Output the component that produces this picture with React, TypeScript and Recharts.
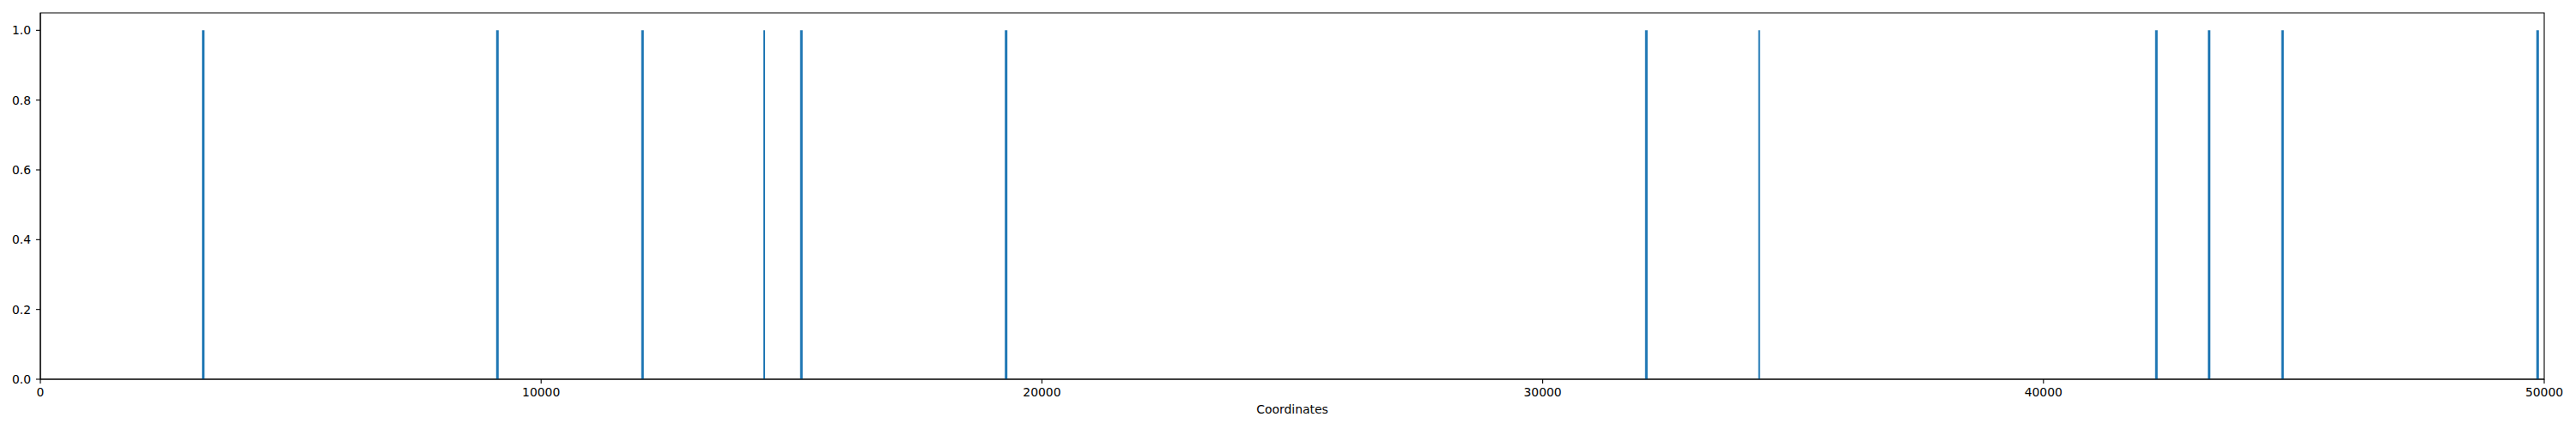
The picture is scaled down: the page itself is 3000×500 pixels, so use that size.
import React from "react";
import {
  ComposedChart,
  XAxis,
  YAxis,
  ReferenceLine,
  ReferenceArea,
  Label,
} from "recharts";

// peak coordinates
const widePeaks = [3253, 9127, 12025, 15197, 19285, 32070, 42255, 43308, 44775, 49868];
const narrowPeaks = [14455, 34323];

const xTicks = [0, 10000, 20000, 30000, 40000, 50000];
const yTicks = [0, 0.2, 0.4, 0.6, 0.8, 1.0];
const xDomain = [0, 50000];
const yDomain = [0, 1.05];
const peakHeight = 1;

const BLUE = "#1f77b4";
const FONT = "DejaVu Sans, sans-serif";
const tickStyle = { fill: "#000", fontSize: 13.9, fontFamily: FONT };

export default function App() {
  return (
    <div style={{ width: 3000, height: 500, background: "#fff" }}>
      <style>{"body{margin:0}"}</style>
      <ComposedChart
        width={3000}
        height={500}
        data={[]}
        margin={{ top: 15, right: 37, bottom: 0, left: 0 }}
      >
        <XAxis
          type="number"
          dataKey="x"
          domain={xDomain}
          ticks={xTicks}
          allowDataOverflow
          height={58}
          stroke="#000"
          tick={tickStyle}
          tickSize={5}
          tickMargin={5}
          tickLine={{ stroke: "#000", strokeWidth: 1.1 }}
          axisLine={{ stroke: "#000", strokeWidth: 1.1 }}
        >
          <Label
            value="Coordinates"
            position="insideBottom"
            offset={18}
            style={{ fill: "#000", fontSize: 13.9, fontFamily: FONT }}
          />
        </XAxis>
        <YAxis
          type="number"
          domain={yDomain}
          ticks={yTicks}
          allowDataOverflow
          width={47}
          stroke="#000"
          tick={tickStyle}
          tickSize={5}
          tickMargin={6}
          tickFormatter={(v: number) => v.toFixed(1)}
          tickLine={{ stroke: "#000", strokeWidth: 1.1 }}
          axisLine={{ stroke: "#000", strokeWidth: 1.1 }}
        />
        {/* plot frame */}
        <ReferenceArea
          x1={xDomain[0]}
          x2={xDomain[1]}
          y1={yDomain[0]}
          y2={yDomain[1]}
          fill="none"
          fillOpacity={0}
          stroke="#000"
          strokeWidth={1.1}
          strokeOpacity={1}
        />
        {widePeaks.map((p) => (
          <ReferenceLine
            key={`w${p}`}
            segment={[
              { x: p, y: 0 },
              { x: p, y: peakHeight },
            ]}
            stroke={BLUE}
            strokeWidth={3}
          />
        ))}
        {narrowPeaks.map((p) => (
          <ReferenceLine
            key={`n${p}`}
            segment={[
              { x: p, y: 0 },
              { x: p, y: peakHeight },
            ]}
            stroke={BLUE}
            strokeWidth={2}
          />
        ))}
      </ComposedChart>
    </div>
  );
}
